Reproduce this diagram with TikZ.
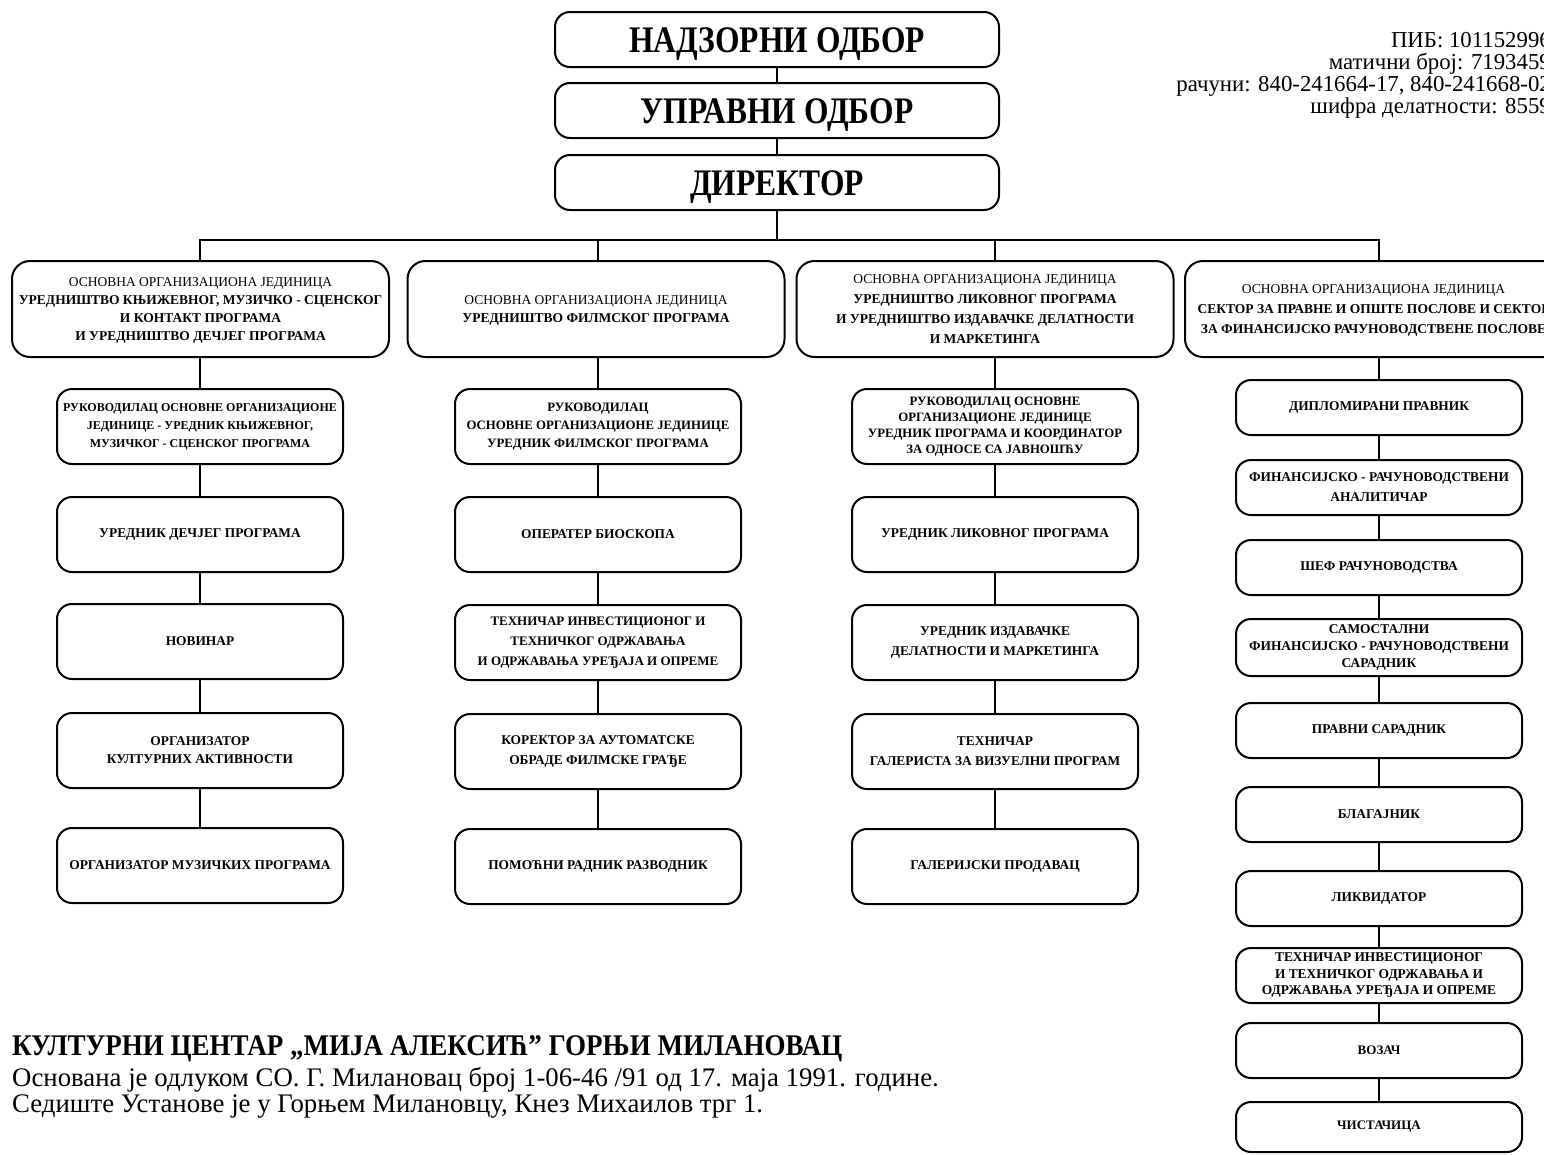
\documentclass[tikz,border=0pt]{standalone}
\usepackage{fontspec}
\setmainfont{Liberation Serif}
\newfontfamily\narrowserif[FakeStretch=0.90]{Liberation Serif}
\newfontfamily\tallserif[FakeStretch=0.84]{Liberation Serif}
\usetikzlibrary{positioning}

\begin{document}
\begin{tikzpicture}
  [
    x = 1pt, y = -1pt,
    box/.style = {draw, line width = 2pt, rounded corners = 15pt, fill = white,
                  align = center, inner sep = 2pt},
    board/.style = {box, minimum width = 444pt, minimum height = 55pt,
                    text height = 25pt, text depth = 0pt,
                    font = \tallserif\fontsize{37.5}{40}\selectfont\bfseries},
    head/.style = {box, rounded corners = 18pt, minimum width = 377pt,
                   minimum height = 96pt, text depth = 0pt,
                   font = \fontsize{13.5}{18}\selectfont},
    post/.style = {box, minimum width = 286pt, minimum height = 75pt,
                   font = \fontsize{13.4}{18}\selectfont\bfseries},
    job/.style = {post, minimum height = 55pt,
                  font = \fontsize{13.4}{17}\selectfont\bfseries},
    link/.style = {line width = 1.8pt},
    every edge/.append style = {link},
  ]
  \useasboundingbox (0,0) rectangle (1544,1154);

  % boards and director
  \node[board] (nad) at (777,39.5) {НАДЗОРНИ ОДБОР};
  \node[board] [below = 14pt of nad] (upr) {УПРАВНИ ОДБОР}
    edge (nad);
  \node[board] [below = 15pt of upr] (dir) {ДИРЕКТОР}
    edge (upr);
  \coordinate (bus) at (777,240);

  % organisational units
  \node[head] (h1) at (200.5,309) {ОСНОВНА ОРГАНИЗАЦИОНА ЈЕДИНИЦА\\
    \textbf{УРЕДНИШТВО КЊИЖЕВНОГ, МУЗИЧКО - СЦЕНСКОГ}\\
    \textbf{И КОНТАКТ ПРОГРАМА}\\
    \textbf{И УРЕДНИШТВО ДЕЧЈЕГ ПРОГРАМА}};
  \node[head] (h2) at (596,309) {ОСНОВНА ОРГАНИЗАЦИОНА ЈЕДИНИЦА\\
    \textbf{УРЕДНИШТВО ФИЛМСКОГ ПРОГРАМА}};
  \node[head, font = \fontsize{13.5}{20}\selectfont] (h3) at (985,309)
    {ОСНОВНА ОРГАНИЗАЦИОНА ЈЕДИНИЦА\\
    \textbf{УРЕДНИШТВО ЛИКОВНОГ ПРОГРАМА}\\
    \textbf{И УРЕДНИШТВО ИЗДАВАЧКЕ ДЕЛАТНОСТИ}\\
    \textbf{И МАРКЕТИНГА}};
  \node[head, font = \fontsize{13.5}{20}\selectfont] (h4) at (1373.5,309)
    {ОСНОВНА ОРГАНИЗАЦИОНА ЈЕДИНИЦА\\
    \textbf{СЕКТОР ЗА ПРАВНЕ И ОПШТЕ ПОСЛОВЕ И СЕКТОР}\\
    \textbf{ЗА ФИНАНСИЈСКО РАЧУНОВОДСТВЕНЕ ПОСЛОВЕ}};

  % first column
  \node[post, font = \fontsize{12}{18}\selectfont\bfseries] (c1a) at (200,426.5)
    {РУКОВОДИЛАЦ ОСНОВНЕ ОРГАНИЗАЦИОНЕ\\
    ЈЕДИНИЦЕ - УРЕДНИК КЊИЖЕВНОГ,\\ МУЗИЧКОГ - СЦЕНСКОГ ПРОГРАМА};
  \node[post] [below = 31pt of c1a] (c1b) {УРЕДНИК ДЕЧЈЕГ ПРОГРАМА}
    edge (c1a);
  \node[post] [below = 30pt of c1b] (c1c) {НОВИНАР}
    edge (c1b);
  \node[post] [below = 32pt of c1c] (c1d) {ОРГАНИЗАТОР\\ КУЛТУРНИХ АКТИВНОСТИ}
    edge (c1c);
  \node[post] [below = 38pt of c1d] (c1e) {ОРГАНИЗАТОР МУЗИЧКИХ ПРОГРАМА}
    edge (c1d);

  % second column
  \node[post, font = \fontsize{12.8}{18}\selectfont\bfseries] (c2a) at (598,426.5)
    {РУКОВОДИЛАЦ\\
    ОСНОВНЕ ОРГАНИЗАЦИОНЕ ЈЕДИНИЦЕ\\ УРЕДНИК ФИЛМСКОГ ПРОГРАМА};
  \node[post] [below = 31pt of c2a] (c2b) {ОПЕРАТЕР БИОСКОПА}
    edge (c2a);
  \node[post, font = \fontsize{13}{20}\selectfont\bfseries]
    [below = 31pt of c2b] (c2c) {ТЕХНИЧАР ИНВЕСТИЦИОНОГ И\\
    ТЕХНИЧКОГ ОДРЖАВАЊА\\ И ОДРЖАВАЊА УРЕЂАЈА И ОПРЕМЕ}
    edge (c2b);
  \node[post, font = \fontsize{13.4}{20}\selectfont\bfseries]
    [below = 32pt of c2c] (c2d) {КОРЕКТОР ЗА АУТОМАТСКЕ\\
    ОБРАДЕ ФИЛМСКЕ ГРАЂЕ}
    edge (c2c);
  \node[post] [below = 38pt of c2d] (c2e) {ПОМОЋНИ РАДНИК РАЗВОДНИК}
    edge (c2d);

  % third column
  \node[post, font = \fontsize{12.8}{16}\selectfont\bfseries] (c3a) at (995,426.5)
    {РУКОВОДИЛАЦ ОСНОВНЕ\\ ОРГАНИЗАЦИОНЕ ЈЕДИНИЦЕ\\
    УРЕДНИК ПРОГРАМА И КООРДИНАТОР\\ ЗА ОДНОСЕ СА ЈАВНОШЋУ};
  \node[post] [below = 31pt of c3a] (c3b) {УРЕДНИК ЛИКОВНОГ ПРОГРАМА}
    edge (c3a);
  \node[post, font = \fontsize{13.4}{20}\selectfont\bfseries]
    [below = 31pt of c3b] (c3c) {УРЕДНИК ИЗДАВАЧКЕ\\
    ДЕЛАТНОСТИ И МАРКЕТИНГА}
    edge (c3b);
  \node[post, font = \fontsize{13.4}{20}\selectfont\bfseries]
    [below = 32pt of c3c] (c3d) {ТЕХНИЧАР\\
    ГАЛЕРИСТА ЗА ВИЗУЕЛНИ ПРОГРАМ}
    edge (c3c);
  \node[post] [below = 38pt of c3d] (c3e) {ГАЛЕРИЈСКИ ПРОДАВАЦ}
    edge (c3d);

  % fourth column
  \node[job] (c4a) at (1379,407.5) {ДИПЛОМИРАНИ ПРАВНИК};
  \node[job, font = \fontsize{13.4}{20}\selectfont\bfseries]
    [below = 23pt of c4a] (c4b) {ФИНАНСИЈСКО - РАЧУНОВОДСТВЕНИ\\
    АНАЛИТИЧАР}
    edge (c4a);
  \node[job] [below = 23pt of c4b] (c4c) {ШЕФ РАЧУНОВОДСТВА}
    edge (c4b);
  \node[job, minimum height = 57pt] [below = 22pt of c4c] (c4d) {САМОСТАЛНИ\\
    ФИНАНСИЈСКО - РАЧУНОВОДСТВЕНИ\\ САРАДНИК}
    edge (c4c);
  \node[job] [below = 25pt of c4d] (c4e) {ПРАВНИ САРАДНИК}
    edge (c4d);
  \node[job] [below = 27pt of c4e] (c4f) {БЛАГАЈНИК}
    edge (c4e);
  \node[job] [below = 27pt of c4f] (c4g) {ЛИКВИДАТОР}
    edge (c4f);
  \node[job, font = \fontsize{13.4}{16.5}\selectfont\bfseries]
    [below = 20pt of c4g] (c4h) {ТЕХНИЧАР ИНВЕСТИЦИОНОГ\\
    И ТЕХНИЧКОГ ОДРЖАВАЊА И\\ ОДРЖАВАЊА УРЕЂАЈА И ОПРЕМЕ}
    edge (c4g);
  \node[job, font = \fontsize{13}{15}\selectfont\bfseries]
    [below = 18pt of c4h] (c4i) {ВОЗАЧ}
    edge (c4h);
  \node[job, minimum height = 50pt, font = \fontsize{13}{15}\selectfont\bfseries]
    [below = 22pt of c4i] (c4j) {ЧИСТАЧИЦА}
    edge (c4i);

  % tree lines
  \draw[link] (dir) -- (bus);
  \draw[link] (h1.north -| c1a) |- (bus) -| (h4.north -| c4a);
  \draw[link] (bus -| c2a) -- (h2.north -| c2a);
  \draw[link] (bus -| c3a) -- (h3.north -| c3a);
  \draw[link] (h1.south -| c1a) -- (c1a);
  \draw[link] (h2.south -| c2a) -- (c2a);
  \draw[link] (h3.south -| c3a) -- (c3a);
  \draw[link] (h4.south -| c4a) -- (c4a);

  % registration data
  \node[anchor = north east, align = right, inner sep = 0pt,
        font = \fontsize{22.8}{22}\selectfont] (ids) at (1551,32)
    {ПИБ: 101152996\\ матични број: 7193459\\
    рачуни: 840-241664-17, 840-241668-02\\ шифра делатности: 8559};

  % institution
  \node[anchor = base west, inner sep = 0pt,
        font = \narrowserif\bfseries\fontsize{30}{30}\selectfont] (name) at (12,1055)
    {КУЛТУРНИ ЦЕНТАР „МИЈА АЛЕКСИЋ” ГОРЊИ МИЛАНОВАЦ};
  \node[anchor = base west, inner sep = 0pt,
        font = \fontsize{26.8}{27}\selectfont] (found) at (12,1086)
    {Основана је одлуком СО. Г. Милановац број 1-06-46 /91 од 17. маја 1991. године.};
  \node[anchor = base west, inner sep = 0pt,
        font = \fontsize{26.8}{27}\selectfont] (seat) at (12,1112)
    {Седиште Установе је у Горњем Милановцу, Кнез Михаилов трг 1.};
\end{tikzpicture}
\end{document}
